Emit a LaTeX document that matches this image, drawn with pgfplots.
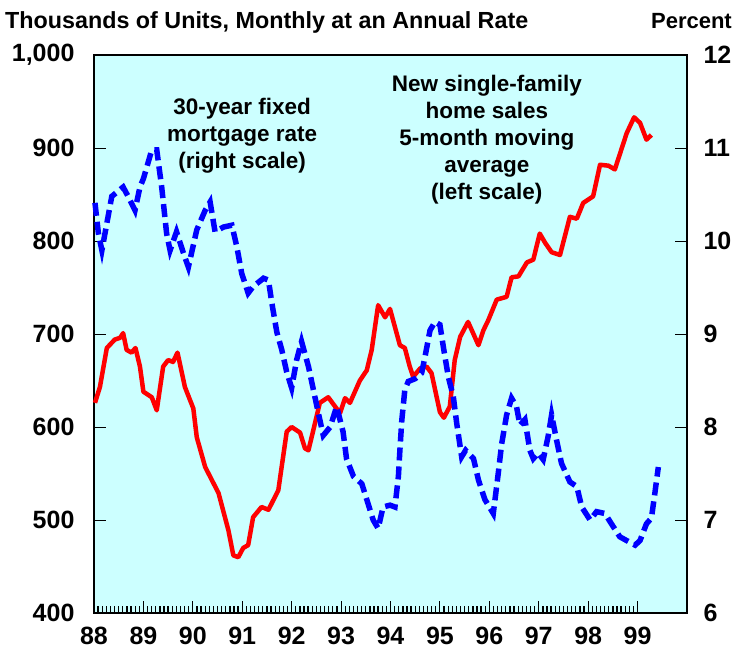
\documentclass[border=0pt]{standalone}
\usepackage{fontspec}
\setmainfont{Liberation Sans}
\usepackage{pgfplots}
\pgfplotsset{compat=1.18}
\definecolor{bgcyan}{RGB}{204,255,255}
\begin{document}
\begin{tikzpicture}
\pgfplotsset{
  every axis/.append style={
    width=593pt, height=558pt, scale only axis,
    xmin=88, xmax=100,
    axis line style={line width=2.5pt},
    tick style={black, line width=0.9pt},
    tick align=inside,
    major tick length=12pt, minor tick length=7pt,
    /pgf/number format/assume math mode=true,
    tick label style={font=\fontsize{25}{25}\selectfont\bfseries},
    clip=false,
  }
}
\begin{axis}[
  ymin=400, ymax=1000, ytick={400,500,...,1000},
  axis background/.style={fill=bgcyan},
  xtick={88,...,99},
  minor x tick num=11,
  xtick pos=bottom, ytick pos=left,
  yticklabel style={xshift=-16pt},
  xticklabel style={yshift=-10pt},
  minor tick style={line width=1.3pt},
]
\addplot[red, line width=4.5pt, line join=round] coordinates {
(88.02,626)(88.12,643)(88.26,685)(88.42,694)(88.53,696)(88.59,701)(88.66,683)
(88.76,680)(88.84,685)(88.93,665)(89.00,638)(89.17,632)(89.27,618)(89.40,665)
(89.50,672)(89.60,670)(89.69,680)(89.84,643)(90.01,620)(90.08,589)(90.25,557)
(90.52,529)(90.72,489)(90.82,462)(90.92,460)(91.02,470)(91.12,473)(91.22,503)
(91.39,514)(91.53,511)(91.73,532)(91.90,595)(92.00,600)(92.17,594)(92.27,577)
(92.34,575)(92.44,597)(92.57,626)(92.74,632)(92.88,622)(92.98,615)(93.08,631)
(93.18,626)(93.38,650)(93.52,661)(93.62,683)(93.75,731)(93.89,718)(93.99,727)
(94.19,688)(94.29,685)(94.39,665)(94.46,654)(94.60,663)(94.73,665)(94.83,658)
(95.00,616)(95.08,610)(95.20,622)(95.30,672)(95.41,697)(95.57,713)(95.78,688)
(95.88,704)(95.98,715)(96.15,737)(96.35,740)(96.45,761)(96.59,762)(96.76,777)
(96.89,780)(97.02,808)(97.13,798)(97.26,788)(97.43,785)(97.63,826)(97.77,824)
(97.90,841)(98.10,848)(98.24,882)(98.41,881)(98.54,877)(98.78,916)(98.93,933)
(99.05,927)(99.18,909)(99.28,914)};
\node[anchor=base west, font=\fontsize{23.3}{23.3}\selectfont\bfseries, inner sep=0pt]
  at (rel axis cs:-0.150,1.0484) {Thousands of Units, Monthly at an Annual Rate};
\node[anchor=base east, font=\fontsize{22}{22}\selectfont\bfseries, inner sep=0pt]
  at (rel axis cs:1.0759,1.0484) {Percent};
\node[align=center, font=\fontsize{22.5}{27}\selectfont\bfseries]
  at (axis cs:91.0,913) {30-year fixed\\mortgage rate\\(right scale)};
\node[align=center, font=\fontsize{22.5}{27}\selectfont\bfseries]
  at (axis cs:95.95,909) {New single-family\\home sales\\5-month moving\\average\\(left scale)};
\path (rel axis cs:-0.1585,-0.0735) rectangle (rel axis cs:1.0860,1.0986);
\end{axis}
\begin{axis}[
  ymin=6, ymax=12, ytick={6,...,12},
  hide x axis, axis y line*=right,
  yticklabel style={xshift=13pt},
]
\addplot[blue, line width=5.5pt, dash pattern=on 13pt off 6pt] coordinates {
(88.02,10.41)(88.09,10.08)(88.16,9.90)(88.26,10.19)(88.36,10.48)(88.59,10.58)
(88.69,10.48)(88.83,10.33)(88.93,10.58)(89.00,10.67)(89.17,10.98)(89.27,10.98)
(89.37,10.58)(89.47,10.08)(89.54,9.90)(89.67,10.10)(89.81,9.87)(89.91,9.72)
(90.08,10.12)(90.25,10.33)(90.35,10.42)(90.45,10.10)(90.62,10.15)(90.79,10.17)
(90.89,9.94)(90.99,9.65)(91.12,9.44)(91.22,9.51)(91.43,9.60)(91.53,9.58)
(91.60,9.33)(91.70,9.02)(91.80,8.83)(91.90,8.59)(92.00,8.42)(92.10,8.72)
(92.20,8.92)(92.34,8.65)(92.44,8.40)(92.54,8.15)(92.64,7.91)(92.78,8.00)
(92.91,8.22)(93.04,7.95)(93.11,7.66)(93.25,7.47)(93.42,7.39)(93.52,7.22)
(93.65,7.00)(93.75,6.91)(93.85,7.14)(93.99,7.16)(94.09,7.14)(94.16,7.47)
(94.19,7.75)(94.23,8.08)(94.29,8.40)(94.36,8.49)(94.50,8.52)(94.63,8.58)
(94.70,8.76)(94.80,9.04)(94.90,9.13)(95.00,9.10)(95.07,8.86)(95.17,8.54)
(95.27,8.33)(95.34,8.04)(95.44,7.68)(95.52,7.75)(95.68,7.66)(95.78,7.43)
(95.91,7.22)(96.08,7.07)(96.18,7.50)(96.25,7.82)(96.35,8.13)(96.45,8.31)
(96.55,8.22)(96.62,8.02)(96.72,8.08)(96.82,7.75)(96.89,7.66)(96.99,7.72)
(97.09,7.65)(97.19,7.90)(97.26,8.13)(97.36,7.86)(97.46,7.61)(97.63,7.41)
(97.77,7.36)(97.87,7.14)(98.04,7.00)(98.17,7.09)(98.34,7.07)(98.47,6.96)
(98.64,6.82)(98.81,6.77)(98.95,6.73)(99.05,6.78)(99.18,6.96)(99.28,7.02)
(99.35,7.29)(99.42,7.57)};
\end{axis}
\end{tikzpicture}
\end{document}
